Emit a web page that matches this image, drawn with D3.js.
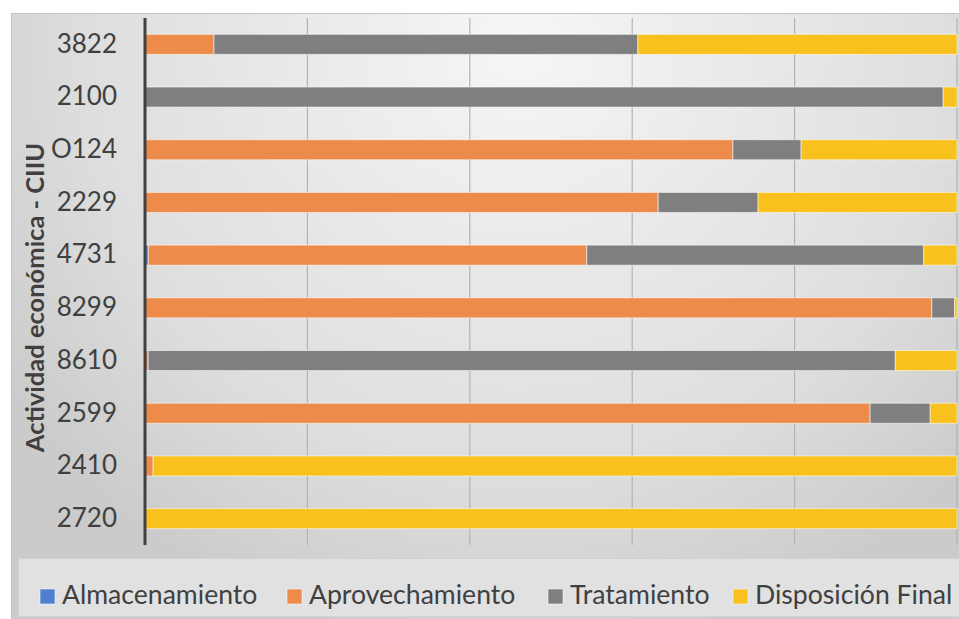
<!DOCTYPE html>
<html>
<head>
<meta charset="utf-8">
<script src="https://cdn.jsdelivr.net/npm/d3@7"></script>
<style>
  body { margin: 0; background: #fff; }
  svg { display: block; }
</style>
</head>
<body>
<svg id="chart"></svg>
<script>
// categories, top to bottom
const categories = ["3822", "2100", "O124", "2229", "4731", "8299", "8610", "2599", "2410", "2720"];
const seriesNames = ["Almacenamiento", "Aprovechamiento", "Tratamiento", "Disposición Final"];
// shares (%)
const almacenamiento  = [0,    0,    0,    0,    0.4,  0,    0,    0,    0,   0];
const aprovechamiento = [8.5,  0,    72.4, 63.2, 54.0, 96.9, 0.4,  89.3, 1.0, 0];
const tratamiento     = [52.2, 98.3, 8.4,  12.3, 41.5, 2.8,  92.0, 7.4,  0,   0];
const disposicion     = [39.3, 1.7,  19.2, 24.5, 4.1,  0.3,  7.6,  3.3,  99.0, 100];
const xTicks = [0, 20, 40, 60, 80, 100];
const colors = ["#4f7fcf", "#ec8b4a", "#7f7f7f", "#f8c11e"];

const W = 959, H = 619;
const plot = { left: 145, right: 957, top: 18, bottom: 545 };

const rows = categories.map((c, i) => ({
  cat: c,
  "Almacenamiento": almacenamiento[i],
  "Aprovechamiento": aprovechamiento[i],
  "Tratamiento": tratamiento[i],
  "Disposición Final": disposicion[i]
}));

const svg = d3.select("#chart").attr("width", W).attr("height", H);
const defs = svg.append("defs");

// chart background gradient, light at top middle, darker towards the edges
const bg = defs.append("radialGradient")
  .attr("id", "bg")
  .attr("gradientUnits", "userSpaceOnUse")
  .attr("cx", 520).attr("cy", 40).attr("r", 620)
  .attr("fx", 520).attr("fy", 40);
bg.append("stop").attr("offset", "0%").attr("stop-color", "#f6f6f6");
bg.append("stop").attr("offset", "70%").attr("stop-color", "#dedede");
bg.append("stop").attr("offset", "100%").attr("stop-color", "#cbcbcb");

svg.append("rect")
  .attr("x", 11.5).attr("y", 13.5)
  .attr("width", W - 11).attr("height", H - 13)
  .attr("fill", "url(#bg)")
  .attr("stroke", "#c4c4c4");

const x = d3.scaleLinear().domain([0, 100]).range([plot.left, plot.right]);
const y = d3.scaleBand().domain(categories).range([plot.top, plot.bottom])
  .paddingInner(0.62).paddingOuter(0.31);

// gridlines
svg.append("g")
  .selectAll("line")
  .data(xTicks.slice(1))
  .join("line")
  .attr("x1", d => x(d)).attr("x2", d => x(d))
  .attr("y1", plot.top).attr("y2", plot.bottom)
  .attr("stroke", "#b3b3b3")
  .attr("stroke-width", 1.2);

// stacked bars
const stack = d3.stack().keys(seriesNames);
const layers = stack(rows);

svg.append("g")
  .selectAll("g")
  .data(layers)
  .join("g")
  .attr("fill", (d, i) => colors[i])
  .selectAll("rect")
  .data(d => d.filter(s => s[1] - s[0] > 0))
  .join("rect")
  .attr("x", d => x(d[0]))
  .attr("y", d => y(d.data.cat))
  .attr("width", d => x(d[1]) - x(d[0]))
  .attr("height", y.bandwidth())
  .attr("stroke", "rgba(255,255,255,0.55)")
  .attr("stroke-width", 1);

// vertical category axis
const yAxis = svg.append("g")
  .attr("transform", `translate(${plot.left},0)`)
  .call(d3.axisLeft(y).tickSize(0).tickPadding(28));
yAxis.select(".domain")
  .attr("stroke", "#404040")
  .attr("stroke-width", 3)
  .attr("d", `M0,${plot.top}V${plot.bottom}`);
yAxis.selectAll("text")
  .attr("fill", "#404040")
  .style("font-family", "Lato")
  .style("font-size", "26px");

// axis title
svg.append("text")
  .attr("transform", `translate(44,${(plot.top + plot.bottom) / 2 + 16}) rotate(-90)`)
  .attr("text-anchor", "middle")
  .attr("fill", "#404040")
  .style("font-family", "Lato")
  .style("font-weight", "bold")
  .style("font-size", "25.5px")
  .text("Actividad económica - CIIU");

// legend
svg.append("rect")
  .attr("x", 18.5).attr("y", 558.5)
  .attr("width", W - 18).attr("height", 58)
  .attr("fill", "#e1e1e1")
  .attr("stroke", "#d2d2d2");

const legendX = [40, 287, 548, 733];
const legend = svg.append("g")
  .selectAll("g")
  .data(seriesNames)
  .join("g")
  .attr("transform", (d, i) => `translate(${legendX[i]},589)`);
legend.append("rect")
  .attr("width", 15).attr("height", 15)
  .attr("fill", (d, i) => colors[i])
  .attr("stroke", "rgba(255,255,255,0.55)");
legend.append("text")
  .attr("x", 22).attr("y", 15)
  .attr("fill", "#404040")
  .style("font-family", "Lato")
  .style("font-size", "26.6px")
  .text(d => d);
</script>
</body>
</html>
